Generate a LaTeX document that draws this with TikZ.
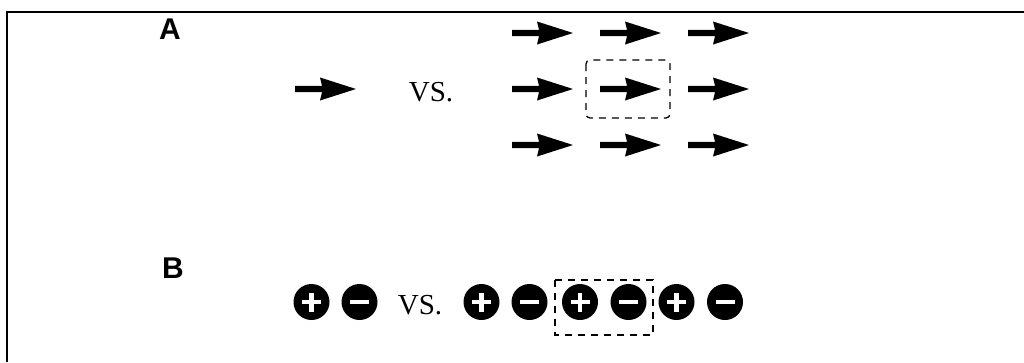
\documentclass[tikz,border=0pt]{standalone}
\usepackage{fontspec}
\setmainfont{Liberation Serif}
\newfontfamily\panelfont{Liberation Sans}
\begin{document}
\begin{tikzpicture}[x=1pt,y=-1pt,
  panel/.style={font=\panelfont\bfseries\fontsize{30}{30}\selectfont, inner sep=0pt, anchor=base west},
  versus/.style={font=\fontsize{29}{29}\selectfont, inner sep=0pt, anchor=base},
  cell/.style={draw, line width=1.3pt, dash pattern=on 7pt off 6pt},
  vec/.pic={\fill (0,-3.2)--(27,-3.2)--(25,-11.5)--(61,0)--(25,11.5)--(27,3.2)--(0,3.2)--cycle;},
  cation/.pic={\fill (0,0) circle (18);
    \fill[white] (-9.5,-2.3) rectangle (9.5,2.3);
    \fill[white] (-2.3,-9.5) rectangle (2.3,9.5);},
  anion/.pic={\fill (0,0) circle (18);
    \fill[white] (-9.5,-2.3) rectangle (9.5,2.3);},
]
\useasboundingbox (0,0) rectangle (1024,362);

% frame
\draw[line width=1.3pt] (7,362) -- (7,12) -- (1024,12);

% panel A: a single dipole vs. a lattice of dipoles
\node[panel] (labA) at (159,39) {A};
\pic at (295,89) {vec};
\node[versus] (vsA) at (431,101) {VS.};
\foreach \r/\yy in {1/33,2/89,3/145}{
  \foreach \c/\xx in {1/512,2/600,3/688}{
    \pic (d\r\c) at (\xx,\yy) {vec};
  }
}
\draw[cell, rounded corners=4pt] (586,60) rectangle (670,118);

% panel B: an ion pair vs. a chain of ions
\node[panel] (labB) at (162,278) {B};
\pic at (311.5,302) {cation};
\pic at (359.5,302) {anion};
\node[versus] (vsB) at (420,314) {VS.};
\foreach \i/\xx in {1/481.5,3/580,5/676.5}{
  \pic (ion\i) at (\xx,302) {cation};
}
\foreach \i/\xx in {2/529.5,4/628.5,6/725}{
  \pic (ion\i) at (\xx,302) {anion};
}
\draw[cell] (555,280) rectangle (653,335);
\end{tikzpicture}
\end{document}
